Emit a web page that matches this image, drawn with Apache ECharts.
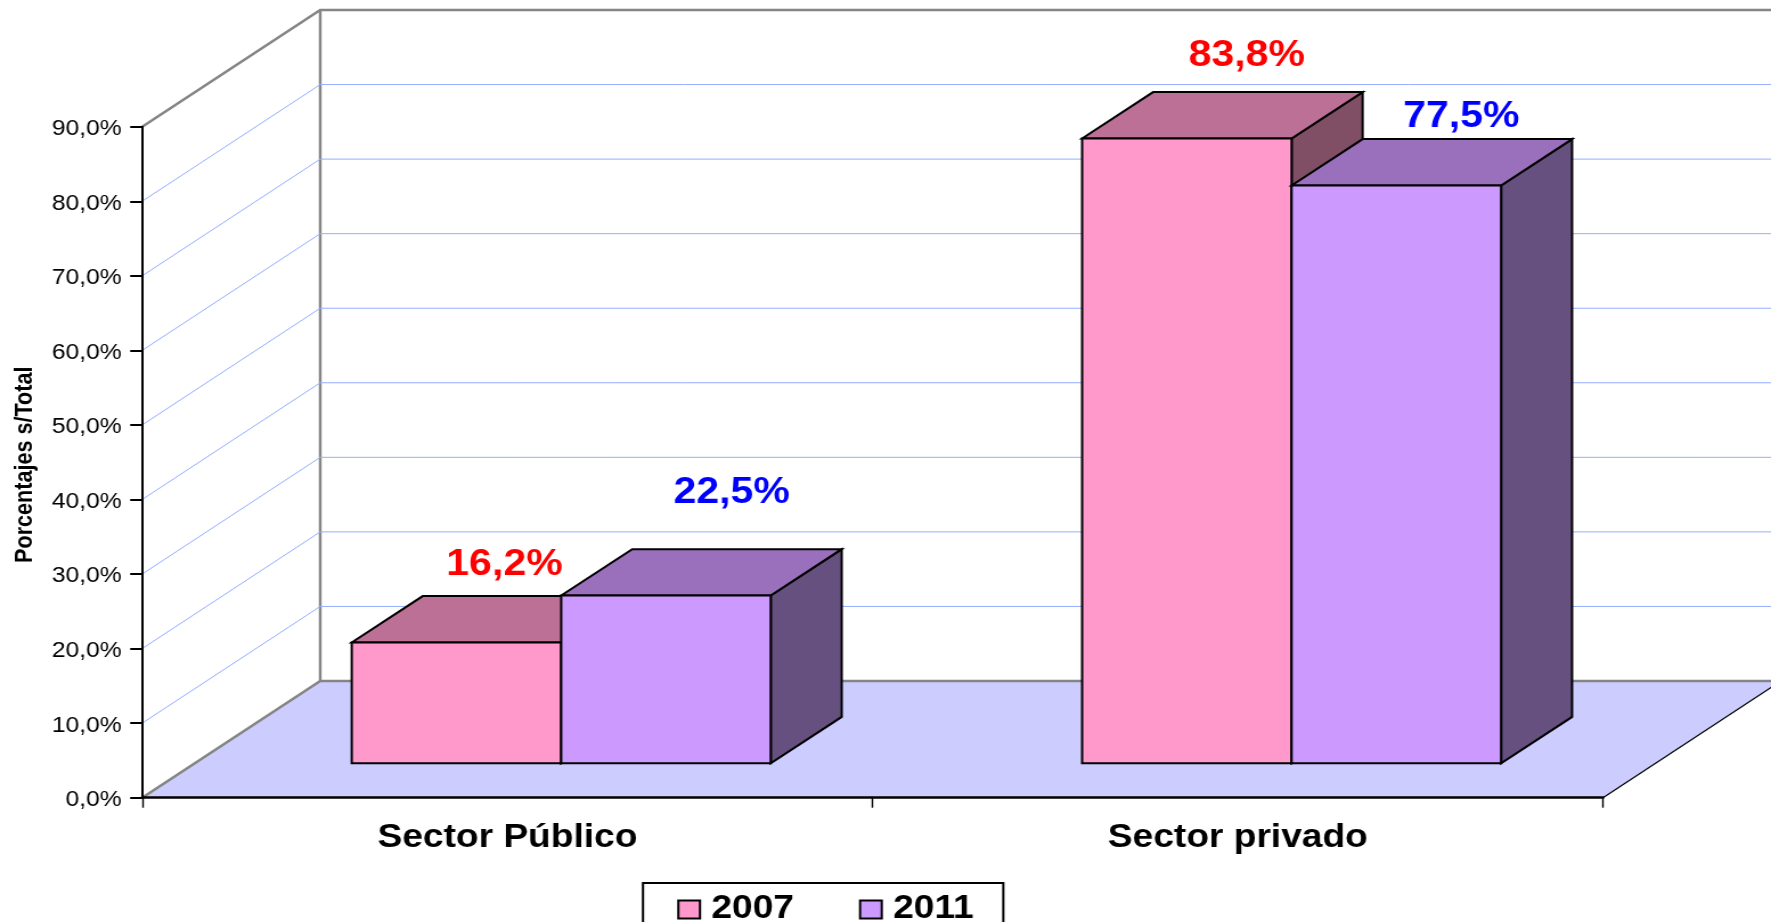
<!DOCTYPE html>
<html>
<head>
<meta charset="utf-8">
<style>
html,body{margin:0;padding:0;background:#fff;overflow:hidden;width:1771px;height:922px}
#main{width:1554px;height:922px;transform-origin:0 0;transform:scaleX(1.13964)}
</style>
<script src="https://cdn.jsdelivr.net/npm/echarts@6/dist/echarts.min.js"></script>
</head>
<body>
<div id="main"></div>
<script>
const categories = ['Sector Público', 'Sector privado'];
const values2007 = [16.2, 83.8];
const values2011 = [22.5, 77.5];
const gridTicks = [0, 10, 20, 30, 40, 50, 60, 70, 80, 90];
const seriesNames = ['2007', '2011'];
const axisTitle = 'Porcentajes s/Total';

const S = 1771 / 1554;
const X = v => v / S;
const FONT = '"Liberation Sans", Arial, sans-serif';
const WALL_DX = X(178), WALL_DY = 116.7;
const FLOOR_DX = X(53.8), FLOOR_DY = 34.4;
const BAR_W = X(209.5), BAR_DX = X(71), BAR_DY = 46.4;
const PAGE_R = 1554 + 20;
const labelShift = [[[48, -80], [60, -85]], [[65.6, -105], [65, -71]]];
const faces = [
  {front: '#FF99CC', top: '#BD7096', side: '#804F66', text: '#FF0000'},
  {front: '#CC99FF', top: '#9A70BD', side: '#66507F', text: '#0000FF'}
];
const fmt = v => v.toFixed(1).replace('.', ',') + '%';
const edge = {stroke: '#000', lineWidth: 2, lineJoin: 'miter'};

function renderBackdrop(params, api) {
  const v = api.value(1);
  const c = params.coordSys;
  const y = api.coord([0, v])[1];
  const xl = c.x, xr = c.x + c.width;
  const wx = xl + WALL_DX, wy = y - WALL_DY;
  const kids = [];
  const gray = {stroke: '#858585', lineWidth: 2.4, fill: null};
  if (v === 0) {
    const topY = api.coord([0, 90])[1] - WALL_DY;
    kids.push({type: 'polygon', shape: {points: [[xl, y], [wx, wy], [xr + WALL_DX, wy], [xr, y]]},
      style: {fill: '#CCCCFF', stroke: null}});
    kids.push({type: 'polyline', shape: {points: [[xr, y], [xr + WALL_DX, wy]]},
      style: {stroke: '#000', lineWidth: 1.2, fill: null}});
    kids.push({type: 'polyline', shape: {points: [[xl, y], [wx, wy], [PAGE_R, wy]]}, style: gray});
    kids.push({type: 'polyline', shape: {points: [[wx, wy], [wx, topY]]}, style: gray});
  } else {
    kids.push({type: 'polyline', shape: {points: [[xl, y], [wx, wy], [PAGE_R, wy]]},
      style: {stroke: '#95AEFF', lineWidth: 1, fill: null}});
    if (v === 90) {
      kids.push({type: 'polyline', shape: {points: [[xl, y], [wx, wy], [PAGE_R, wy]]}, style: gray});
    }
  }
  return {type: 'group', silent: true, children: kids};
}

function renderBar(params, api) {
  const si = params.seriesIndex - 1;
  const cat = api.value(0), val = api.value(1);
  const f = faces[si];
  const base = api.coord([cat, 0]);
  const head = api.coord([cat, val]);
  const x0 = base[0] + FLOOR_DX + (si === 0 ? -BAR_W : 0);
  const x1 = x0 + BAR_W;
  const yb = base[1] - FLOOR_DY, yt = head[1] - FLOOR_DY;
  const sh = labelShift[si][cat];
  return {type: 'group', children: [
    {type: 'polygon', shape: {points: [[x1, yt], [x1 + BAR_DX, yt - BAR_DY], [x1 + BAR_DX, yb - BAR_DY], [x1, yb]]},
      style: Object.assign({fill: f.side}, edge)},
    {type: 'polygon', shape: {points: [[x0, yt], [x0 + BAR_DX, yt - BAR_DY], [x1 + BAR_DX, yt - BAR_DY], [x1, yt]]},
      style: Object.assign({fill: f.top}, edge)},
    {type: 'rect', shape: {x: x0, y: yt, width: BAR_W, height: yb - yt},
      style: Object.assign({fill: f.front}, edge)},
    {type: 'text', x: (x0 + x1) / 2 + X(sh[0]), y: yt + sh[1] + 3,
      style: {text: fmt(val), fill: f.text, font: 'bold 36px ' + FONT, align: 'center', verticalAlign: 'middle'}}
  ]};
}

const chart = echarts.init(document.getElementById('main'), null, {renderer: 'canvas'});
chart.setOption({
  animation: false,
  backgroundColor: '#fff',
  grid: {left: X(142.2), width: X(1460.8), top: 126.7, height: 671, outerBoundsMode: 'none'},
  legend: {
    data: seriesNames,
    left: X(643), top: 883,
    orient: 'horizontal',
    backgroundColor: '#fff', borderColor: '#000', borderWidth: 2, borderRadius: 0,
    padding: [10, 26, 12, 30],
    icon: 'rect', itemWidth: 19, itemHeight: 18, itemGap: 57,
    itemStyle: {borderColor: '#000', borderWidth: 2},
    textStyle: {fontFamily: FONT, fontWeight: 'bold', fontSize: 32.6, color: '#000', padding: [0, 0, 0, 5]},
    selectedMode: false
  },
  xAxis: {
    type: 'category', data: categories, z: 5,
    axisLine: {show: true, lineStyle: {color: '#000', width: 2.6}},
    axisTick: {show: true, alignWithLabel: false, length: 10, lineStyle: {color: '#000', width: 1.4}},
    axisLabel: {fontFamily: FONT, fontWeight: 'bold', fontSize: 32.6, color: '#000', margin: 24, interval: 0},
    splitLine: {show: false}
  },
  yAxis: {
    type: 'value', min: 0, max: 90, interval: 10, z: 5,
    name: axisTitle, nameLocation: 'middle', nameGap: 92, nameRotate: 90,
    nameTextStyle: {fontFamily: FONT, fontWeight: 'bold', fontSize: 21.6, color: '#000', padding: [6, 5, 0, 0]},
    axisLine: {show: true, lineStyle: {color: '#000', width: 2}},
    axisTick: {show: true, length: 10.5, lineStyle: {color: '#000', width: 2}},
    axisLabel: {fontFamily: FONT, fontSize: 21.6, color: '#000', margin: 18, verticalAlign: 'top', lineHeight: 5, formatter: v => fmt(v)},
    splitLine: {show: false}
  },
  series: [
    {type: 'custom', name: 'backdrop', silent: true, clip: false, renderItem: renderBackdrop,
      encode: {x: 0, y: 1}, data: gridTicks.map(v => [0, v])},
    {type: 'custom', name: seriesNames[0], clip: false, renderItem: renderBar,
      itemStyle: {color: faces[0].front},
      encode: {x: 0, y: 1}, data: values2007.map((v, i) => [i, v])},
    {type: 'custom', name: seriesNames[1], clip: false, renderItem: renderBar,
      itemStyle: {color: faces[1].front},
      encode: {x: 0, y: 1}, data: values2011.map((v, i) => [i, v])}
  ]
});
</script>
</body>
</html>
